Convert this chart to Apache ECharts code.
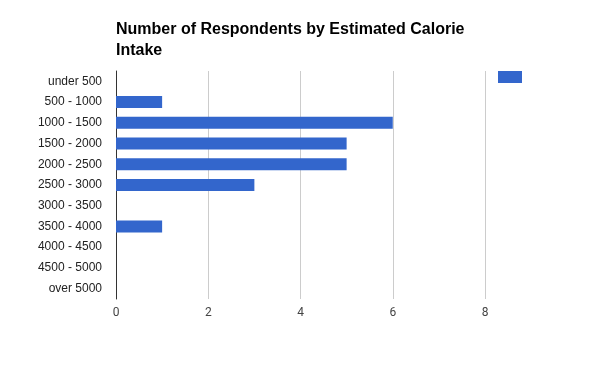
<!DOCTYPE html>
<html><head><meta charset="utf-8">
<script src="https://cdn.jsdelivr.net/npm/echarts@6/dist/echarts.min.js"></script>
<style>html,body{margin:0;padding:0;background:#fff}#c{width:600px;height:371px}</style>
</head><body><div id="c"></div>
<script>
var categories = ['under 500','500 - 1000','1000 - 1500','1500 - 2000','2000 - 2500','2500 - 3000','3000 - 3500','3500 - 4000','4000 - 4500','4500 - 5000','over 5000'];
var respondents = [0,1,6,5,5,3,0,1,0,0,0];
var xTicks = [0,2,4,6,8];
var chart = echarts.init(document.getElementById('c'), null, {renderer:'canvas'});
chart.setOption({
  animation:false,
  title:{text:'Number of Respondents by Estimated Calorie\nIntake', left:111, top:14,
    textStyle:{fontFamily:'Liberation Sans, Arial', fontSize:16, fontWeight:'bold', color:'#000', lineHeight:21}},
  legend:{show:true, left:493, top:66, padding:5, itemWidth:24, itemHeight:12, icon:'rect', formatter:function(){return '';}, data:['Respondents']},
  grid:{left:116, right:115, top:71, bottom:72, containLabel:false},
  xAxis:{type:'value', min:xTicks[0], max:xTicks[xTicks.length-1], interval:2,
    axisLine:{show:false}, axisTick:{show:false},
    splitLine:{lineStyle:{color:'#cccccc', width:1}},
    axisLabel:{color:'#444', fontFamily:'Roboto, Liberation Sans, Arial', fontSize:12, margin:8}},
  yAxis:{type:'category', data:categories, inverse:true,
    axisLine:{show:true, lineStyle:{color:'#333', width:1}}, axisTick:{show:false},
    axisLabel:{color:'#222', fontFamily:'Liberation Sans, Arial', fontSize:12, margin:14}},
  series:[{name:'Respondents', type:'bar', data:respondents, barWidth:12, itemStyle:{color:'#3366cc'}}]
});
</script></body></html>
